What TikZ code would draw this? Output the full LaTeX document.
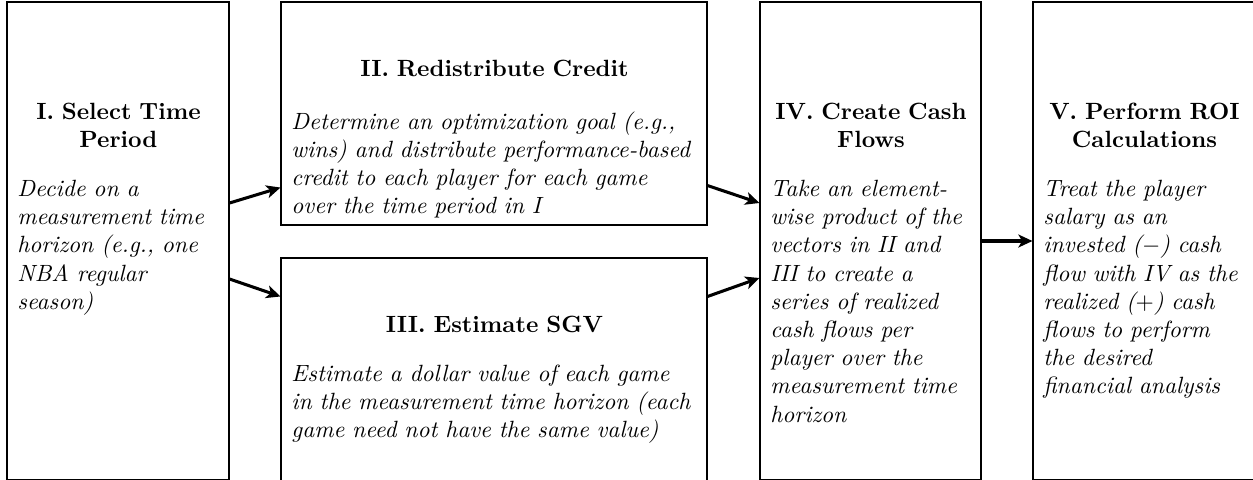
\documentclass[tikz,border=0pt]{standalone}
\usetikzlibrary{arrows.meta}
\newdimen\pxu \pxu=0.4255pt
\newcommand\ttl[2][9pt]{{\centering\bfseries #2\par}\vspace{#1}}
\newcommand\bdy[1]{{\itshape #1\par}}
\begin{document}
\begin{tikzpicture}[x=0.4255pt,y=-0.4255pt,
  box/.style={draw, line width=0.45pt, inner sep=0pt},
  txt/.style={inner sep=0pt, anchor=base west, align=left},
  arr/.style={line width=1.3pt, -{Stealth[length=6pt,width=5.5pt,inset=1.6pt]}}]
\useasboundingbox (0,0) rectangle (1253,479);
% boxes
\node[box, minimum width=222*\pxu, minimum height=478*\pxu] (I) at (118,241) {};
\node[box, minimum width=426*\pxu, minimum height=223*\pxu] (II) at (494,113.5) {};
\node[box, minimum width=426*\pxu, minimum height=223*\pxu] (III) at (494,369.5) {};
\node[box, minimum width=221*\pxu, minimum height=478*\pxu] (IV) at (870.5,241) {};
\node[box, minimum width=222*\pxu, minimum height=478*\pxu] (V) at (1144,241) {};
% texts
\node[txt, text width=202*\pxu] (tI) at (17,119) {\ttl{I. Select Time\\Period}\bdy{Decide on a\\measurement time\\horizon (e.g., one\\NBA regular\\season)}};
\node[txt, text width=406*\pxu] (tII) at (291,76) {\ttl[10.7pt]{II. Redistribute Credit}\bdy{Determine an optimization goal (e.g.,\\wins) and distribute performance-based\\credit to each player for each game\\over the time period in I}};
\node[txt, text width=406*\pxu] (tIII) at (291,332) {\ttl{III. Estimate SGV}\bdy{Estimate a dollar value of each game\\in the measurement time horizon (each\\game need not have the same value)}};
\node[txt, text width=201*\pxu] (tIV) at (770,119) {\ttl{IV. Create Cash\\Flows}\bdy{Take an element-\\wise product of the\\vectors in II and\\III to create a\\series of realized\\cash flows per\\player over the\\measurement time\\horizon}};
\node[txt, text width=202*\pxu] (tV) at (1043,119) {\ttl{V. Perform ROI\\Calculations}\bdy{Treat the player\\salary as an\\invested ($-$) cash\\flow with IV as the\\realized ($+$) cash\\flows to perform\\the desired\\financial analysis}};
% arrows
\draw[arr] ([yshift=38*\pxu]I.east) -- ([yshift=38*\pxu]II.south west);
\draw[arr] ([yshift=-38*\pxu]I.east) -- ([yshift=-39*\pxu]III.north west);
\draw[arr] ([yshift=40*\pxu]II.south east) -- ([yshift=38*\pxu]IV.west);
\draw[arr] ([yshift=-39*\pxu]III.north east) -- ([yshift=-37*\pxu]IV.west);
\draw[arr] (IV.east) -- (V.west);
\end{tikzpicture}
\end{document}
